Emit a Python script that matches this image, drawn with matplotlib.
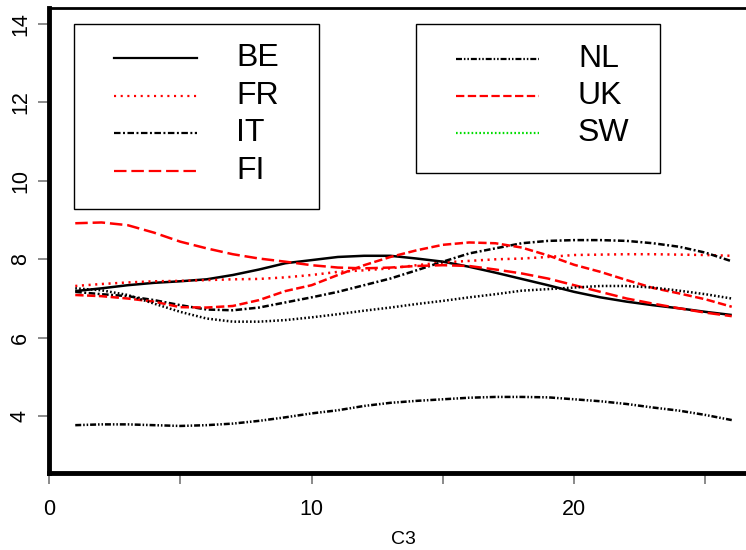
import matplotlib
matplotlib.use("Agg")
import matplotlib.pyplot as plt
from matplotlib.lines import Line2D
from matplotlib.patches import Rectangle

plt.rcParams['font.family'] = ['Liberation Sans', 'DejaVu Sans']
plt.rcParams['lines.scale_dashes'] = False

# smoothed yearly series per country, C3 = 1..26
c3 = list(range(1, 27))

be = [7.19, 7.26, 7.34, 7.40, 7.44, 7.49, 7.60, 7.74, 7.90, 7.98, 8.06, 8.09, 8.09,
      8.02, 7.94, 7.81, 7.66, 7.50, 7.34, 7.17, 7.03, 6.92, 6.83, 6.75, 6.66, 6.58]
fr = [7.32, 7.37, 7.41, 7.44, 7.45, 7.47, 7.49, 7.50, 7.54, 7.60, 7.68, 7.72, 7.77,
      7.85, 7.92, 7.96, 8.00, 8.02, 8.06, 8.11, 8.12, 8.13, 8.13, 8.12, 8.11, 8.09]
it = [7.17, 7.11, 7.06, 6.96, 6.83, 6.72, 6.70, 6.77, 6.90, 7.03, 7.17, 7.34, 7.51,
      7.72, 7.94, 8.15, 8.28, 8.41, 8.47, 8.49, 8.49, 8.47, 8.41, 8.32, 8.17, 7.95]
fi = [8.92, 8.94, 8.87, 8.68, 8.45, 8.28, 8.13, 8.02, 7.94, 7.85, 7.79, 7.77, 7.79,
      7.83, 7.85, 7.83, 7.74, 7.64, 7.51, 7.34, 7.17, 7.00, 6.87, 6.75, 6.64, 6.55]
nl = [3.77, 3.79, 3.79, 3.77, 3.75, 3.77, 3.81, 3.88, 3.97, 4.07, 4.15, 4.26, 4.34,
      4.39, 4.43, 4.47, 4.49, 4.49, 4.48, 4.43, 4.38, 4.31, 4.22, 4.14, 4.03, 3.90]
uk = [7.09, 7.06, 7.00, 6.92, 6.78, 6.77, 6.81, 6.96, 7.19, 7.34, 7.60, 7.85, 8.06,
      8.23, 8.37, 8.43, 8.41, 8.30, 8.10, 7.86, 7.68, 7.47, 7.27, 7.13, 6.98, 6.79]
sw = [7.26, 7.21, 7.09, 6.87, 6.66, 6.49, 6.41, 6.41, 6.45, 6.52, 6.60, 6.69, 6.77,
      6.86, 6.94, 7.03, 7.11, 7.20, 7.24, 7.28, 7.32, 7.32, 7.28, 7.20, 7.11, 7.00]

# (label, values, colour in plot, colour in key, dash pattern in points)
series = [
    ("BE", be, "black", "black", None),
    ("FR", fr, "#ff0000", "#ff0000", (1.5, 3.3)),
    ("IT", it, "black", "black", (4.7, 1.8, 1.4, 1.8)),
    ("FI", fi, "#ff0000", "#ff0000", (9, 3.5)),
    ("NL", nl, "black", "black", (4.3, 1.4, 1.1, 1.4, 1.1, 1.4)),
    ("UK", uk, "#ff0000", "#ff0000", (6, 2.5)),
    ("SW", sw, "black", "#00dd00", (1.2, 1.6)),
]

W, H = 746, 550
fig = plt.figure(figsize=(W / 100, H / 100), dpi=100)
ax = fig.add_axes([49 / W, 77 / H, (758 - 49) / W, (473 - 8) / H])

for name, vals, col, _, dash in series:
    ln, = ax.plot(c3, vals, color=col, lw=1.8, solid_capstyle='butt')
    if dash:
        ln.set_dashes(dash)

ax.set_xlim(0, 27)
ax.set_ylim(2.55, 14.41)
ax.set_xticks([0, 10, 20])
ax.set_xticks([5, 15, 25], minor=True)
ax.set_yticks([4, 6, 8, 10, 12, 14])
ax.tick_params(which='both', direction='out', length=8, width=1.2, color='#777777',
               labelsize=15.5)
ax.tick_params(axis='x', pad=11)
ax.tick_params(axis='y', pad=5)
for lab in ax.get_yticklabels():
    lab.set_rotation(90)
    lab.set_va('center')
ax.set_xlabel("C3", fontsize=14, labelpad=8)

ax.spines['left'].set_linewidth(3.5)
ax.spines['bottom'].set_linewidth(3.5)
ax.spines['top'].set_linewidth(2)
ax.spines['right'].set_visible(False)


def px(x, y):
    return x / W, 1 - y / H


def draw_key(box, line_x, text_x, rows, entries):
    (x0, y0), (x1, y1) = box
    fx0, fy1 = px(x0, y0)
    fx1, fy0 = px(x1, y1)
    fig.add_artist(Rectangle((fx0, fy0), fx1 - fx0, fy1 - fy0, fill=False,
                             edgecolor='black', lw=1.0, transform=fig.transFigure))
    for ry, (name, _, _, kcol, dash) in zip(rows, entries):
        (ax0, ay), (ax1, _) = px(line_x[0], ry), px(line_x[1], ry)
        ln = Line2D([ax0, ax1], [ay, ay], color=kcol, lw=1.6,
                    transform=fig.transFigure)
        if dash:
            ln.set_dashes(dash)
        fig.add_artist(ln)
        tx, ty = px(text_x, ry)
        fig.text(tx, ty, name, fontsize=23, va='center', ha='left')


draw_key(((74, 24), (319, 209)), (114, 197), 236, [58, 96, 133, 171], series[:4])
draw_key(((416, 24), (660, 173)), (456, 539), 578, [59, 96, 133], series[4:])

fig.savefig("out.png", dpi=100)
